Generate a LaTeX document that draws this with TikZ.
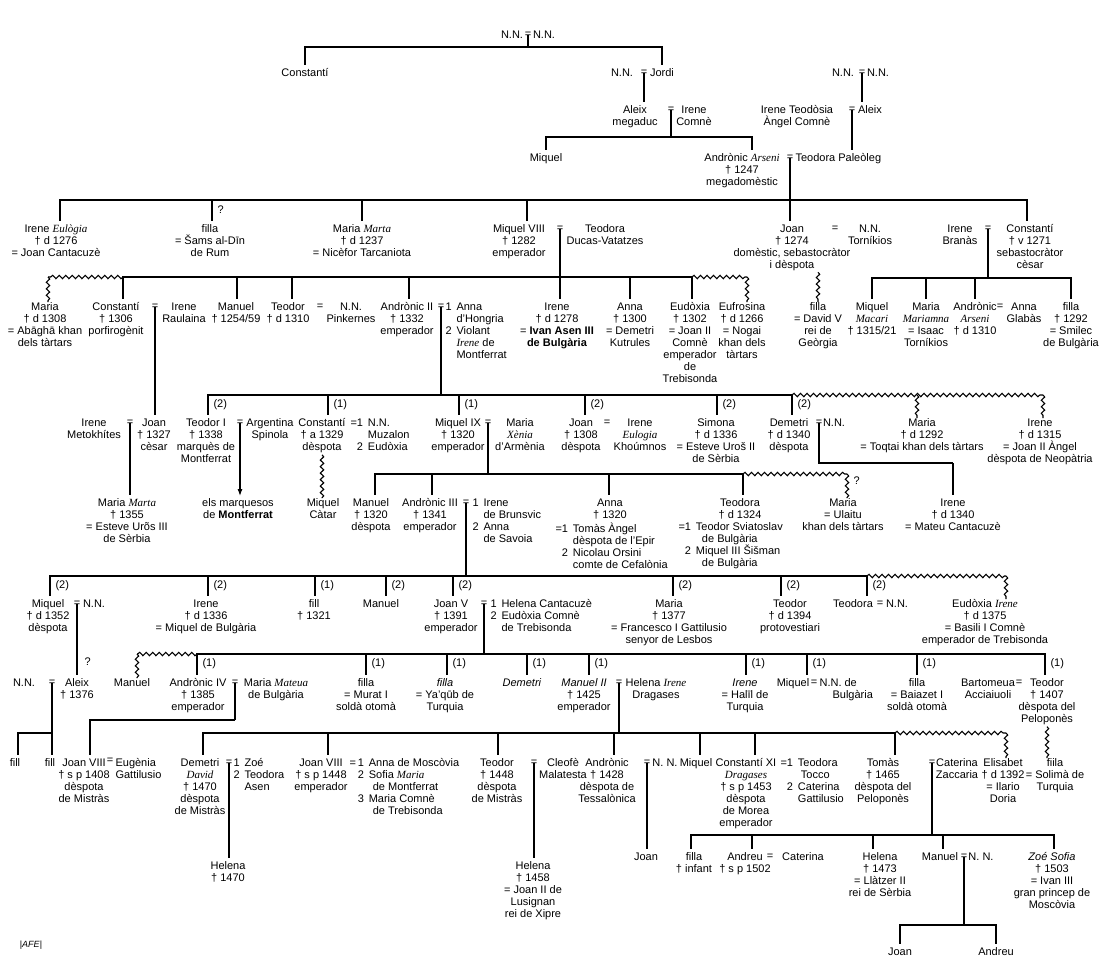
\documentclass[tikz,border=0pt]{standalone}
\usepackage{fontspec}
\setmainfont{Liberation Sans}
\newfontfamily\nickfont{Liberation Serif}
\usetikzlibrary{decorations.pathmorphing,arrows.meta}
\newcommand\fsz{\fontsize{11}{12}\selectfont}
\newcommand\nm[1]{\makebox[11pt][l]{#1}}
\newcommand\nick[1]{{\nickfont\itshape #1}}
\tikzset{
  pn/.style={anchor=north, yshift=5pt, align=center, inner sep=0pt, font=\fsz, execute at begin node=\strut},
  pw/.style={pn, anchor=north west, align=left},
  eqn/.style={inner sep=0pt, font=\fsz},
  lab/.style={inner sep=0pt, font=\fsz, anchor=west},
  dr/.style={shorten >=3pt},
  wavy/.style={decorate, decoration={snake, amplitude=1.7pt, segment length=6.5pt}},
}
\begin{document}
\begin{tikzpicture}[x=1pt, y=-1pt, line width=1.1pt]
\fill[white] (0,0) rectangle (1100,967);
\useasboundingbox (0,0) rectangle (1100,967);

% ---------- generation 0 ----------
\node[pn] (g0a) at (512,35) {N.N.};
\node[eqn] (e0) at (528,35) {=};
\node[pn] (g0b) at (544,35) {N.N.};

% ---------- generation 1 ----------
\node[pn] (c1) at (305,73) {Constantí};
\node[pn] (g1a) at (622,73) {N.N.};
\node[eqn] (e1) at (644,73) {=};
\node[pn] (jordi) at (662,73) {Jordi};
\node[pn] (g1c) at (843,73) {N.N.};
\node[eqn] (e1b) at (862,73) {=};
\node[pn] (g1d) at (878,73) {N.N.};

% ---------- generation 2 ----------
\node[pn] (aleix) at (635,110) {Aleix\\megaduc};
\node[eqn] (e2) at (671,110) {=};
\node[pn] (irc) at (694,110) {Irene\\Comnè};
\node[pn] (irt) at (797,110) {Irene Teodòsia\\Àngel Comnè};
\node[eqn] (e2b) at (852,110) {=};
\node[pn] (aleix2) at (870,110) {Aleix};

% ---------- generation 3 ----------
\node[pn] (miq3) at (546,158) {Miquel};
\node[pn] (andA) at (742,158) {Andrònic \nick{Arseni}\\† 1247\\megadomèstic};
\node[eqn] (e3) at (790,158) {=};
\node[pw] (teo3) at (795,158) {Teodora Paleòleg};

% ---------- generation 4 ----------
\node[pn] (ireE) at (56,229) {Irene \nick{Eulògia}\\† d 1276\\= Joan Cantacuzè};
\node[pn] (fil4) at (210,229) {filla\\= Šams al-Dīn\\de Rum};
\node[pn] (marM4) at (362,229) {Maria \nick{Marta}\\† d 1237\\= Nicèfor Tarcaniota};
\node[pn] (miq4) at (519,229) {Miquel VIII\\† 1282\\emperador};
\node[eqn] (e4) at (560,229) {=};
\node[pn] (teoDV) at (605,229) {Teodora\\Ducas-Vatatzes};
\node[pn] (joan4) at (792,229) {Joan\\† 1274\\domèstic, sebastocràtor\\i dèspota};
\node[eqn] (e4b) at (835,229) {=};
\node[pn] (nnT) at (870,229) {N.N.\\Torníkios};
\node[pn] (ireB) at (960,229) {Irene\\Branàs};
\node[eqn] (e4c) at (988,229) {=};
\node[pn] (const4) at (1030,229) {Constantí\\† v 1271\\sebastocràtor\\cèsar};

% ---------- generation 5 ----------
\node[pn] (maria5) at (45,307) {Maria\\† d 1308\\= Abāghā khan\\dels tàrtars};
\node[pn] (const5) at (116,307) {Constantí\\† 1306\\porfirogènit};
\node[eqn] (e5a) at (155,307) {=};
\node[pn] (ireR) at (184,307) {Irene\\Raulaina};
\node[pn] (man5) at (236,307) {Manuel\\† 1254/59};
\node[pn] (teo5) at (288,307) {Teodor\\† d 1310};
\node[eqn] (e5b) at (320,307) {=};
\node[pn] (nnP) at (351,307) {N.N.\\Pinkernes};
\node[pn] (and2) at (407,307) {Andrònic II\\† 1332\\emperador};
\node[eqn] (e5c) at (441,307) {=};
\node[pw] (w2) at (445,307) {\nm{1}Anna\\\nm{}d’Hongria\\\nm{2}Violant\\\nm{}\nick{Irene} de\\\nm{}Montferrat};
\node[pn] (ire5) at (557,307) {Irene\\† d 1278\\= \textbf{Ivan Asen III}\\\textbf{de Bulgària}};
\node[pn] (anna5) at (630,307) {Anna\\† 1300\\= Demetri\\Kutrules};
\node[pn] (eud5) at (690,307) {Eudòxia\\† 1302\\= Joan II\\Comnè\\emperador\\de\\Trebisonda};
\node[pn] (euf5) at (742,307) {Eufrosina\\† d 1266\\= Nogai\\khan dels\\tàrtars};
\node[pn] (filDV) at (818,307) {filla\\= David V\\rei de\\Geòrgia};
\node[pn] (miqM) at (872,307) {Miquel\\\nick{Macari}\\† 1315/21};
\node[pn] (marMr) at (926,307) {Maria\\\nick{Mariamna}\\= Isaac\\Torníkios};
\node[pn] (andA2) at (975,307) {Andrònic\\\nick{Arseni}\\† d 1310};
\node[eqn] (e5d) at (1000,307) {=};
\node[pn] (annaG) at (1024,307) {Anna\\Glabàs};
\node[pn] (fil5) at (1071,307) {filla\\† 1292\\= Smilec\\de Bulgària};

% ---------- generation 6 ----------
\node[pn] (ireMt) at (94,423) {Irene\\Metokhítes};
\node[eqn] (e6a) at (130,423) {=};
\node[pn] (joanC) at (154,423) {Joan\\† 1327\\cèsar};
\node[pn] (teoI) at (206,423) {Teodor I\\† 1338\\marquès de\\Montferrat};
\node[eqn] (e6b) at (240,423) {=};
\node[pn] (argS) at (270,423) {Argentina\\Spinola};
\node[pn] (constD) at (322,423) {Constantí\\† a 1329\\dèspota};
\node[pw] (w3) at (350,423) {=\nm{1}N.N.\\\phantom{=}\nm{}Muzalon\\\phantom{=}\nm{2}Eudòxia};
\node[pn] (miq9) at (458,423) {Miquel IX\\† 1320\\emperador};
\node[eqn] (e6d) at (488,423) {=};
\node[pn] (marX) at (520,423) {Maria\\\nick{Xènia}\\d’Armènia};
\node[pn] (joanD) at (581,423) {Joan\\† 1308\\dèspota};
\node[eqn] (e6e) at (607,423) {=};
\node[pn] (ireK) at (640,423) {Irene\\\nick{Eulogia}\\Khoúmnos};
\node[pn] (simona) at (716,423) {Simona\\† d 1336\\= Esteve Uroš II\\de Sèrbia};
\node[pn] (demD) at (789,423) {Demetri\\† d 1340\\dèspota};
\node[eqn] (e6f) at (819,423) {=};
\node[pn] (nnD) at (834,423) {N.N.};
\node[pn] (mar6) at (922,423) {Maria\\† d 1292\\= Toqtai khan dels tàrtars};
\node[pn] (ire6) at (1040,423) {Irene\\† d 1315\\= Joan II Àngel\\dèspota de Neopàtria};

% ---------- generation 7 ----------
\node[pn] (marMt) at (127,503) {Maria \nick{Marta}\\† 1355\\= Esteve Urõs III\\de Sèrbia};
\node[pn] (marq) at (238,503) {els marquesos\\de \textbf{Montferrat}};
\node[pn] (miqC) at (323,503) {Miquel\\Càtar};
\node[pn] (man7) at (371,503) {Manuel\\† 1320\\dèspota};
\node[pn] (and3) at (430,503) {Andrònic III\\† 1341\\emperador};
\node[eqn] (e7a) at (466,503) {=};
\node[pw] (w4) at (472,503) {\nm{1}Irene\\\nm{}de Brunsvic\\\nm{2}Anna\\\nm{}de Savoia};
\node[pn] (anna7) at (610,503) {Anna\\† 1320};
\node[pw] (anna7m) at (555,527) {=\nm{1}Tomàs Àngel\\\phantom{=}\nm{}dèspota de l’Epir\\\phantom{=}\nm{2}Nicolau Orsini\\\phantom{=}\nm{}comte de Cefalònia};
\node[pn] (teo7) at (740,503) {Teodora\\† d 1324};
\node[pw] (teo7m) at (678,527) {=\nm{1}Teodor Sviatoslav\\\phantom{=}\nm{}\hspace*{6pt}de Bulgària\\\phantom{=}\nm{2}Miquel III Šišman\\\phantom{=}\nm{}\hspace*{6pt}de Bulgària};
\node[pn] (marU) at (843,503) {Maria\\= Ulaitu\\khan dels tàrtars};
\node[pn] (ireMC) at (953,503) {Irene\\† d 1340\\= Mateu Cantacuzè};

% ---------- generation 8 ----------
\node[pn] (miq8b) at (48,604) {Miquel\\† d 1352\\dèspota};
\node[eqn] (e8a) at (77,604) {=};
\node[pn] (nn8) at (94,604) {N.N.};
\node[pn] (ire8) at (206,604) {Irene\\† d 1336\\= Miquel de Bulgària};
\node[pn] (fil8) at (314,604) {fill\\† 1321};
\node[pn] (man8) at (381,604) {Manuel};
\node[pn] (joan5) at (451,604) {Joan V\\† 1391\\emperador};
\node[eqn] (e8b) at (484,604) {=};
\node[pw] (w5) at (490,604) {\nm{1}Helena Cantacuzè\\\nm{2}Eudòxia Comnè\\\nm{}de Trebisonda};
\node[pn] (mar8) at (669,604) {Maria\\† 1377\\= Francesco I Gattilusio\\senyor de Lesbos};
\node[pn] (teo8) at (790,604) {Teodor\\† d 1394\\protovestiari};
\node[pn] (teoN) at (853,604) {Teodora};
\node[eqn] (e8c) at (880,604) {=};
\node[pn] (nn8b) at (897,604) {N.N.};
\node[pn] (eudI) at (985,604) {Eudòxia \nick{Irene}\\† d 1375\\= Basili I Comnè\\emperador de Trebisonda};

% ---------- generation 9 ----------
\node[pn] (nn9) at (24,683) {N.N.};
\node[eqn] (e9a) at (52,683) {=};
\node[pn] (aleix9) at (77,683) {Aleix\\† 1376};
\node[pn] (man9) at (132,683) {Manuel};
\node[pn] (and4) at (198,683) {Andrònic IV\\† 1385\\emperador};
\node[eqn] (e9b) at (235,683) {=};
\node[pn] (marMat) at (276,683) {Maria \nick{Mateua}\\de Bulgària};
\node[pn] (fM) at (366,683) {filla\\= Murat I\\soldà otomà};
\node[pn] (fY) at (445,683) {\textit{filla}\\= Ya’qūb de\\Turquia};
\node[pn] (dem9) at (522,683) {\textit{Demetri}};
\node[pn] (man2) at (584,683) {\textit{Manuel II}\\† 1425\\emperador};
\node[eqn] (e9c) at (619,683) {=};
\node[pn] (helI) at (656,683) {Helena \nick{Irene}\\Dragases};
\node[pn] (ireH) at (745,683) {\textit{Irene}\\= Halīl de\\Turquia};
\node[pn] (miq9b) at (793,683) {Miquel};
\node[eqn] (e9d) at (814,683) {=};
\node[pw] (nnB) at (819,683) {N.N. de\\\hspace*{13pt}Bulgària};
\node[pn] (fB) at (917,683) {filla\\= Baiazet I\\soldà otomà};
\node[pn] (bart) at (988,683) {Bartomeua\\Acciaiuoli};
\node[eqn] (e9e) at (1019,683) {=};
\node[pn] (teo9) at (1047,683) {Teodor\\† 1407\\dèspota del\\Peloponès};

% ---------- generation 10 ----------
\node[pn] (fillA) at (15,763) {fill};
\node[pn] (fillB) at (50,763) {fill};
\node[pn] (joan8a) at (84,763) {Joan VIII\\† s p 1408\\dèspota\\de Mistràs};
\node[eqn] (e10a) at (110,761) {=};
\node[pw] (eug) at (115,763) {Eugènia\\Gattilusio};
\node[pn] (demDav) at (200,763) {Demetri\\\nick{David}\\† 1470\\dèspota\\de Mistràs};
\node[eqn] (e10b) at (229,763) {=};
\node[pw] (w6) at (233,763) {\nm{1}Zoé\\\nm{2}Teodora\\\nm{}Asen};
\node[pn] (joan8b) at (321,763) {Joan VIII\\† s p 1448\\emperador};
\node[pw] (w7) at (349,763) {=\,\nm{1}Anna de Moscòvia\\\phantom{=\,}\nm{2}Sofia \nick{Maria}\\\phantom{=\,}\nm{}\hspace*{4pt}de Montferrat\\\phantom{=\,}\nm{3}Maria Comnè\\\phantom{=\,}\nm{}\hspace*{4pt}de Trebisonda};
\node[pn] (teo10) at (497,763) {Teodor\\† 1448\\dèspota\\de Mistràs};
\node[eqn] (e10c) at (534,763) {=};
\node[pn] (cleo) at (563,763) {Cleofè\\Malatesta};
\node[pn] (and10) at (607,763) {Andrònic\\† 1428\\dèspota de\\Tessalònica};
\node[eqn] (e10d) at (647,763) {=};
\node[pn] (nn10) at (665,763) {N. N.};
\node[pn] (miq10) at (696,763) {Miquel};
\node[pn] (c11) at (746,763) {Constantí XI\\\nick{Dragases}\\† s p 1453\\dèspota\\de Morea\\emperador};
\node[pw] (w8) at (780,763) {=\nm{1}Teodora\\\phantom{=}\nm{}\hspace*{3pt}Tocco\\\phantom{=}\nm{2}Caterina\\\phantom{=}\nm{}Gattilusio};
\node[pn] (tomas) at (883,763) {Tomàs\\† 1465\\dèspota del\\Peloponès};
\node[eqn] (e10e) at (932,763) {=};
\node[pn] (cat) at (957,763) {Caterina\\Zaccaria};
\node[pn] (elis) at (1003,763) {Elisabet\\† d 1392\\= Ilario\\Doria};
\node[pn] (fiila) at (1055,763) {fiila\\= Solimà de\\Turquia};

% ---------- generation 11 ----------
\node[pn] (hel1) at (228,866) {Helena\\† 1470};
\node[pn] (hel2) at (533,866) {Helena\\† 1458\\= Joan II de\\Lusignan\\rei de Xipre};
\node[pn] (joan11) at (646,857) {Joan};
\node[pn] (filla11) at (694,857) {filla\\† infant};
\node[pn] (andreu11) at (745,857) {Andreu\\† s p 1502};
\node[eqn] (e11a) at (770,857) {=};
\node[pn] (cat11) at (803,857) {Caterina};
\node[pn] (hel3) at (880,857) {Helena\\† 1473\\= Llàtzer II\\rei de Sèrbia};
\node[pn] (man11) at (940,857) {Manuel};
\node[eqn] (e11b) at (964,857) {=};
\node[pn] (nn11) at (981,857) {N. N.};
\node[pn] (zoe) at (1052,857) {\textit{Zoé Sofia}\\† 1503\\= Ivan III\\gran princep de\\Moscòvia};

% ---------- generation 12 ----------
\node[pn] (joan12) at (900,952) {Joan};
\node[pn] (andreu12) at (996,952) {Andreu};

\node[inner sep=0pt, font=\fontsize{9}{10}\selectfont] (afe) at (31,945) {|\textit{AFE}|};

% ---------- question marks ----------
\node[lab] (q1) at (217,210) {?};
\node[lab] (q2) at (853,481) {?};
\node[lab] (q3) at (84,662) {?};

% ---------- connectors ----------
\coordinate (b0) at (528,47);
\draw (e0.center) -- (b0);
\draw[dr] (b0) -| (c1.north);
\draw[dr] (b0) -| (jordi.north);
\draw[dr] (e1.center) -- (e1.center |- aleix.north);
\draw[dr] (e1b.center) -- (e1b.center |- aleix2.north);

\coordinate (b2) at (671,137);
\draw (e2.center) -- (b2);
\draw[dr] (b2) -| (miq3.north);
\draw[dr] (b2) -| ([xshift=10pt]andA.north);
\draw[dr] (e2b.center) -- (e2b.center |- teo3.north);

\coordinate (b3) at (790,200);
\draw (e3.center) -- (b3);
\draw[dr] (b3) -- (b3 |- joan4.north);
\draw[dr] (b3) -| ([xshift=4pt]ireE.north);
\draw[dr] (b3) -| ([xshift=2pt]fil4.north);
\draw[dr] (b3) -| (marM4.north);
\draw[dr] (b3) -| ([xshift=8pt]miq4.north);
\draw[dr] (b3) -| ([xshift=-3pt]const4.north);

\coordinate (b4) at (560,277);
\draw (e4.center) -- (b4);
\draw[dr] (b4) -- (b4 |- ire5.north);
\draw[dr] (b4) -| ([xshift=7pt]const5.north);
\draw[dr] (b4) -| ([xshift=1pt]man5.north);
\draw[dr] (b4) -| ([xshift=4pt]teo5.north);
\draw[dr] (b4) -| ([xshift=2pt]and2.north);
\draw[dr] (b4) -| (anna5.north);
\draw[dr] (b4) -| ([xshift=2pt]eud5.north);
\coordinate (w4s) at (123,277);
\coordinate (w4a) at (48,277);
\coordinate (w4e) at (692,277);
\coordinate (w4b) at (747,277);
\draw[wavy] (w4s) -- (w4a);
\draw[wavy] (w4a) -- (w4a |- maria5.north);
\draw[wavy] (w4e) -- (w4b);
\draw[wavy] (w4b) -- (w4b |- euf5.north);

\coordinate (b4b) at (988,278);
\draw (e4c.center) -- (b4b);
\draw[dr] (b4b) -| (miqM.north);
\draw[dr] (b4b) -| (marMr.north);
\draw[dr] (b4b) -| (andA2.north);
\draw[dr] (b4b) -| (fil5.north);
\draw[wavy] (filDV.north |- joan4.south) -- (filDV.north);

\draw[dr] (e5a.center) -- (e5a.center |- joanC.north);
\coordinate (b5) at (441,395);
\draw (e5c.center) -- (b5);
\draw[dr] (b5) -| ([xshift=2pt]teoI.north);
\draw[dr] (b5) -| ([xshift=6pt]constD.north);
\draw[dr] (b5) -| ([xshift=1pt]miq9.north);
\draw[dr] (b5) -| ([xshift=4pt]joanD.north);
\draw[dr] (b5) -| ([xshift=1pt]simona.north);
\draw[dr] (b5) -| ([xshift=3pt]demD.north);
\coordinate (w5s) at (792,395);
\coordinate (w5a) at (917,395);
\coordinate (w5b) at (1043,395);
\draw[wavy] (w5s) -- (w5b);
\draw[wavy] (w5a) -- (w5a |- mar6.north);
\draw[wavy] (w5b) -- (w5b |- ire6.north);
\node[lab] (l5a) at (213,405) {(2)};
\node[lab] (l5b) at (333,405) {(1)};
\node[lab] (l5c) at (464,405) {(1)};
\node[lab] (l5d) at (590,405) {(2)};
\node[lab] (l5e) at (722,405) {(2)};
\node[lab] (l5f) at (797,405) {(2)};

\draw[dr] (e6a.center) -- (e6a.center |- marMt.north);
\draw[-{Latex[length=7pt,width=5pt]}, shorten >=2pt] (e6b.center) -- (e6b.center |- marq.north);
\draw[wavy] (constD.south) -- (constD.south |- miqC.north);

\coordinate (b7) at (488,474);
\draw (e6d.center) -- (b7);
\draw[dr] (b7) -| ([xshift=4pt]man7.north);
\draw[dr] (b7) -| ([xshift=2pt]and3.north);
\draw[dr] (b7) -| ([xshift=-1pt]anna7.north);
\draw[dr] (b7) -| ([xshift=3pt]teo7.north);
\coordinate (w7s) at (743,474);
\coordinate (w7a) at (847,474);
\draw[wavy] (w7s) -- (w7a);
\draw[wavy] (w7a) -- (w7a |- marU.north);

\coordinate (dm) at (953,463);
\draw (e6f.center) |- (dm);
\draw[dr] (dm) -- (dm |- ireMC.north);

\coordinate (b8) at (466,576);
\draw (e7a.center) -- (b8);
\draw[dr] (b8) -| ([xshift=2pt]miq8b.north);
\draw[dr] (b8) -| ([xshift=2pt]ire8.north);
\draw[dr] (b8) -| ([xshift=1pt]fil8.north);
\draw[dr] (b8) -| ([xshift=5pt]man8.north);
\draw[dr] (b8) -| ([xshift=2pt]joan5.north);
\draw[dr] (b8) -| ([xshift=4pt]mar8.north);
\draw[dr] (b8) -| ([xshift=-9pt]teo8.north);
\draw[dr] (b8) -| ([xshift=14pt]teoN.north);
\coordinate (w8s) at (867,576);
\coordinate (w8a) at (1006,576);
\draw[wavy] (w8s) -- (w8a);
\draw[wavy] (w8a) -- (w8a |- eudI.north);
\node[lab] (l8a) at (55,586) {(2)};
\node[lab] (l8b) at (213,586) {(2)};
\node[lab] (l8c) at (320,586) {(1)};
\node[lab] (l8d) at (391,586) {(2)};
\node[lab] (l8e) at (458,586) {(2)};
\node[lab] (l8f) at (678,586) {(2)};
\node[lab] (l8g) at (786,586) {(2)};
\node[lab] (l8h) at (872,586) {(2)};

\draw[dr] (e8a.center) -- (e8a.center |- aleix9.north);

\coordinate (b9) at (484,654);
\draw (e8b.center) -- (b9);
\draw[dr] (b9) -| ([xshift=-1pt]and4.north);
\draw[dr] (b9) -| (fM.north);
\draw[dr] (b9) -| ([xshift=2pt]fY.north);
\draw[dr] (b9) -| ([xshift=5pt]dem9.north);
\draw[dr] (b9) -| ([xshift=5pt]man2.north);
\draw[dr] (b9) -| ([xshift=1pt]ireH.north);
\draw[dr] (b9) -| ([xshift=14pt]miq9b.north);
\draw[dr] (b9) -| (fB.north);
\draw[dr] (b9) -| ([xshift=-2pt]teo9.north);
\coordinate (w9s) at (197,654);
\coordinate (w9a) at (137,654);
\draw[wavy] (w9s) -- (w9a);
\draw[wavy] (w9a) -- (w9a |- man9.north);
\node[lab] (l9a) at (202,664) {(1)};
\node[lab] (l9b) at (371,664) {(1)};
\node[lab] (l9c) at (452,664) {(1)};
\node[lab] (l9d) at (532,664) {(1)};
\node[lab] (l9e) at (594,664) {(1)};
\node[lab] (l9f) at (751,664) {(1)};
\node[lab] (l9g) at (812,664) {(1)};
\node[lab] (l9h) at (922,664) {(1)};
\node[lab] (l9i) at (1050,664) {(1)};

\coordinate (b9a) at (52,733);
\draw (e9a.center) -- (b9a);
\draw[dr] (b9a) -| ([xshift=3pt]fillA.north);
\draw[dr] (b9a) -- (b9a |- fillB.north);
\coordinate (j8) at (235,720);
\draw (e9b.center) -- (j8);
\draw[dr] (j8) -| ([xshift=6pt]joan8a.north);

\coordinate (b10) at (619,733);
\draw (e9c.center) -- (b10);
\draw[dr] (b10) -| ([xshift=3pt]demDav.north);
\draw[dr] (b10) -| ([xshift=7pt]joan8b.north);
\draw[dr] (b10) -| ([xshift=1pt]teo10.north);
\draw[dr] (b10) -| ([xshift=7pt]and10.north);
\draw[dr] (b10) -| ([xshift=4pt]miq10.north);
\draw[dr] (b10) -| ([xshift=9pt]c11.north);
\draw[dr] (b10) -| ([xshift=12pt]tomas.north);
\coordinate (w10s) at (895,733);
\coordinate (w10a) at (1006,733);
\draw[wavy] (w10s) -- (w10a);
\draw[wavy] (w10a) -- (w10a |- elis.north);
\draw[wavy] (teo9.south) -- (teo9.south |- fiila.north);

\draw[dr] (e10b.center) -- (e10b.center |- hel1.north);
\draw[dr] (e10c.center) -- (e10c.center |- hel2.north);
\draw[dr] (e10d.center) -- (e10d.center |- joan11.north);

\coordinate (b11) at (932,835);
\draw (e10e.center) -- (b11);
\draw[dr] (b11) -| ([xshift=-3pt]filla11.north);
\draw[dr] (b11) -| ([xshift=7pt]andreu11.north);
\draw[dr] (b11) -| ([xshift=-7pt]hel3.north);
\draw[dr] (b11) -| ([xshift=3pt]man11.north);
\draw[dr] (b11) -| ([xshift=2pt]zoe.north);

\coordinate (b12) at (964,925);
\draw (e11b.center) -- (b12);
\draw[dr] (b12) -| (joan12.north);
\draw[dr] (b12) -| (andreu12.north);
\end{tikzpicture}
\end{document}
